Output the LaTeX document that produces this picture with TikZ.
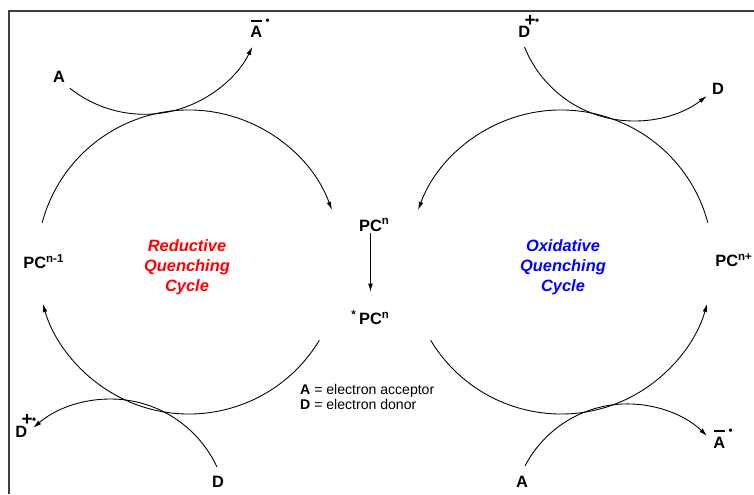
\documentclass[tikz,border=0pt]{standalone}
\usepackage{graphicx}
\usepackage{fontspec}
\setmainfont{Liberation Sans}
\usetikzlibrary{arrows.meta,calc}
% radical ions: charge sign above the letter, radical dot to its right
\newcommand\anionrad[1]{#1\llap{\raisebox{1em}{\rule{.7em}{.11em}}}\kern.2em\raisebox{.8em}{\scalebox{.7}{\textbullet}}}
\newcommand\cationrad[1]{#1\makebox[0pt]{\raisebox{.72em}{\scalebox{1.15}{+}}}\kern.3em\raisebox{.8em}{\scalebox{.7}{\textbullet}}}

\begin{document}
\begin{tikzpicture}[
  x=0.03cm, y=0.03cm,
  >={Latex[length=7pt,width=4pt]},
  species/.style={font=\fontsize{14}{16}\selectfont\bfseries, inner sep=1pt},
  cyclename/.style={font=\fontsize{14}{17}\selectfont\bfseries\itshape, align=center},
  keytext/.style={font=\fontsize{12}{13}\selectfont, align=left, inner sep=0pt},
  track/.style={draw=black, line width=.75pt},
  boxedge/.style={draw=black!75, line width=1.4pt}
]
  \useasboundingbox (0,0) rectangle (754,494);
  \draw[boxedge] (9,0) -- (9,483) -- (754,483);

  % photocatalyst states
  \node[species] (pcn) at (370.5,269) {PC\rlap{\textsuperscript{n}}};
  \node[species] (pcstar) at (370.5,176) {\llap{\textsuperscript{*}\,}PC\rlap{\textsuperscript{n}}};
  \node[species, anchor=west] (pcprev) at (22,232) {PC\textsuperscript{n-1}};
  \node[species, anchor=west] (pcnext) at (714,234) {PC\textsuperscript{n+}};
  \draw[track, ->, shorten >=15pt] (pcn) -- (pcstar);

  % quenchers
  \node[species] (accin) at (59,417) {A};
  \node[species, anchor=base west] (accout) at (249,456) {\anionrad{A}};
  \node[species, anchor=base west] (donout) at (517,456) {\cationrad{D}};
  \node[species] (donin) at (718,405) {D};
  \node[species] (donin2) at (218,12) {D};
  \node[species, anchor=base west] (donout2) at (14,57) {\cationrad{D}};
  \node[species] (accin2) at (522,12) {A};
  \node[species, anchor=base west] (accout2) at (712,46) {\anionrad{A}};

  \node[cyclename, text=red] (redcyc) at (187,227) {Reductive\\Quenching\\Cycle};
  \node[cyclename, text=blue] (oxcyc) at (563,227) {Oxidative\\Quenching\\Cycle};

  \node[keytext, anchor=north west] (key) at (300,110)
    {\textbf{A} = electron acceptor\\\textbf{D} = electron donor};

  % the two catalytic cycles
  \coordinate (Lc) at (189,232);
  \coordinate (Rc) at (561,232);
  \draw[track, ->] ($(Lc)+(165:152)$) arc[start angle=165, end angle=20, radius=152];
  \draw[track, ->] ($(Lc)+(-31:152)$) arc[start angle=-31, end angle=-164, radius=152];
  \draw[track, ->] ($(Rc)+(15:152)$) arc[start angle=15, end angle=160, radius=152];
  \draw[track, ->] ($(Rc)+(211:152)$) arc[start angle=211, end angle=344, radius=152];

  % electron transfer arcs
  \draw[track, ->] ($(144.5,499.7)+(-128.5:120)$) arc[start angle=-128.5, end angle=-26, radius=120];
  \draw[track, ->] ($(634,491)+(-158:118)$) arc[start angle=-158, end angle=-52, radius=118];
  \draw[track, ->] ($(110.4,-22.5)+(25:117.5)$) arc[start angle=25, end angle=131, radius=117.5];
  \draw[track, ->] ($(627.3,-25.3)+(152.5:115.4)$) arc[start angle=152.5, end angle=46.3, radius=115.4];
\end{tikzpicture}
\end{document}
